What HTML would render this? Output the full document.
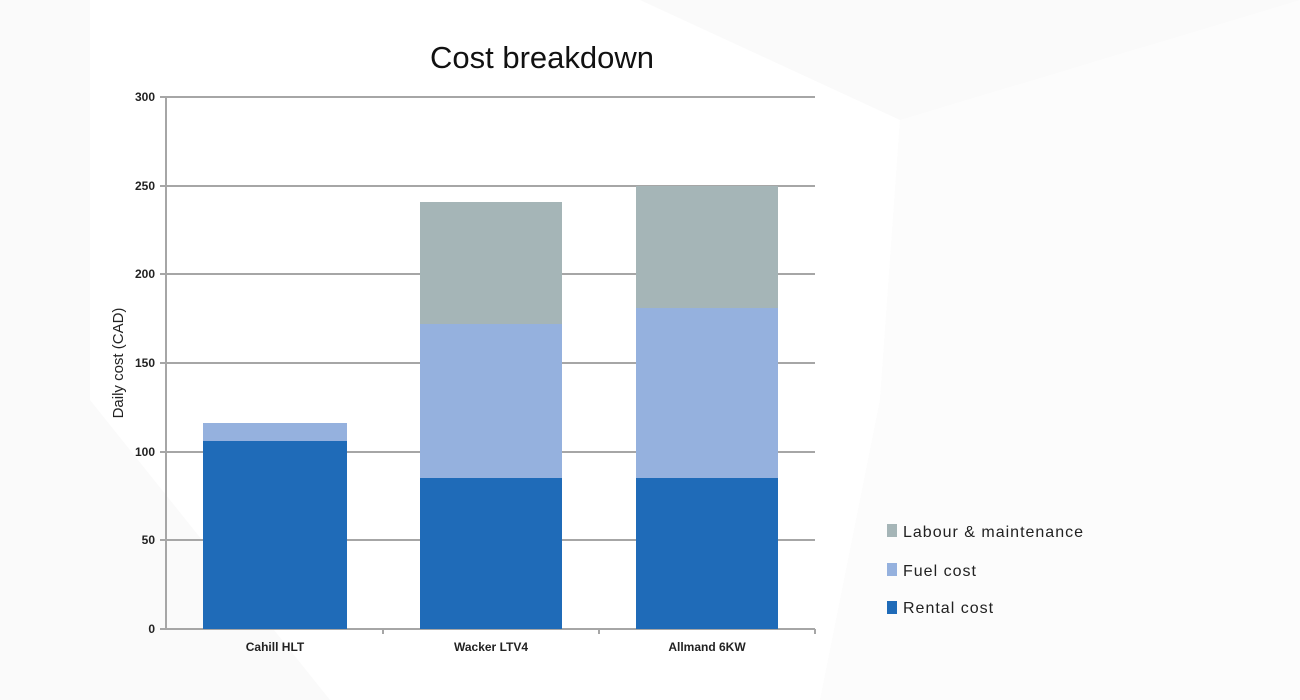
<!DOCTYPE html>
<html><head><style>
body{margin:0;width:1300px;height:700px;overflow:hidden;background:#fafafa;font-family:"Liberation Sans",sans-serif;}
</style></head><body>
<svg width="1300" height="700" xmlns="http://www.w3.org/2000/svg" style="position:absolute;left:0;top:0">
<polygon points="200,0 640,0 900,120 880,400 820,700 330,700 90,400 90,0" fill="#ffffff"/>
<polygon points="900,120 1300,0 1300,700 820,700 880,400" fill="#fcfcfc"/>
<g stroke="#a6a6a6" stroke-width="2">
<line x1="160" y1="97" x2="815" y2="97"/>
<line x1="160" y1="186" x2="815" y2="186"/>
<line x1="160" y1="274" x2="815" y2="274"/>
<line x1="160" y1="363" x2="815" y2="363"/>
<line x1="160" y1="452" x2="815" y2="452"/>
<line x1="160" y1="540" x2="815" y2="540"/>
<line x1="160" y1="629" x2="815" y2="629"/>
<line x1="166" y1="97" x2="166" y2="630"/>
<line x1="383" y1="629" x2="383" y2="634"/>
<line x1="599" y1="629" x2="599" y2="634"/>
<line x1="815" y1="629" x2="815" y2="634"/>
</g>
<rect x="203" y="423" width="144" height="18" fill="#95b1de"/>
<rect x="203" y="441" width="144" height="188" fill="#1f6bb8"/>
<rect x="420" y="202" width="142" height="122" fill="#a5b5b7"/>
<rect x="420" y="324" width="142" height="154" fill="#95b1de"/>
<rect x="420" y="478" width="142" height="151" fill="#1f6bb8"/>
<rect x="636" y="186" width="142" height="122" fill="#a5b5b7"/>
<rect x="636" y="308" width="142" height="170" fill="#95b1de"/>
<rect x="636" y="478" width="142" height="151" fill="#1f6bb8"/>
<g font-size="12" fill="#222" text-anchor="end" font-weight="bold">
<text x="155" y="101">300</text><text x="155" y="190">250</text><text x="155" y="278">200</text>
<text x="155" y="367">150</text><text x="155" y="456">100</text><text x="155" y="544">50</text><text x="155" y="633">0</text>
</g>
<g font-size="12" fill="#222" text-anchor="middle" font-weight="bold">
<text x="275" y="651">Cahill HLT</text><text x="491" y="651">Wacker LTV4</text><text x="707" y="651">Allmand 6KW</text>
</g>
<text x="542" y="68" font-size="31" text-anchor="middle" fill="#111">Cost breakdown</text>
<text transform="translate(123,363) rotate(-90)" font-size="15" text-anchor="middle" fill="#222">Daily cost (CAD)</text>
<rect x="887" y="524" width="10" height="13" fill="#a5b5b7"/>
<rect x="887" y="563" width="10" height="13" fill="#95b1de"/>
<rect x="887" y="601" width="10" height="13" fill="#1f6bb8"/>
<g font-size="16" fill="#222" letter-spacing="1">
<text x="903" y="537">Labour &amp; maintenance</text>
<text x="903" y="576">Fuel cost</text>
<text x="903" y="613">Rental cost</text>
</g>
</svg>
</body></html>
